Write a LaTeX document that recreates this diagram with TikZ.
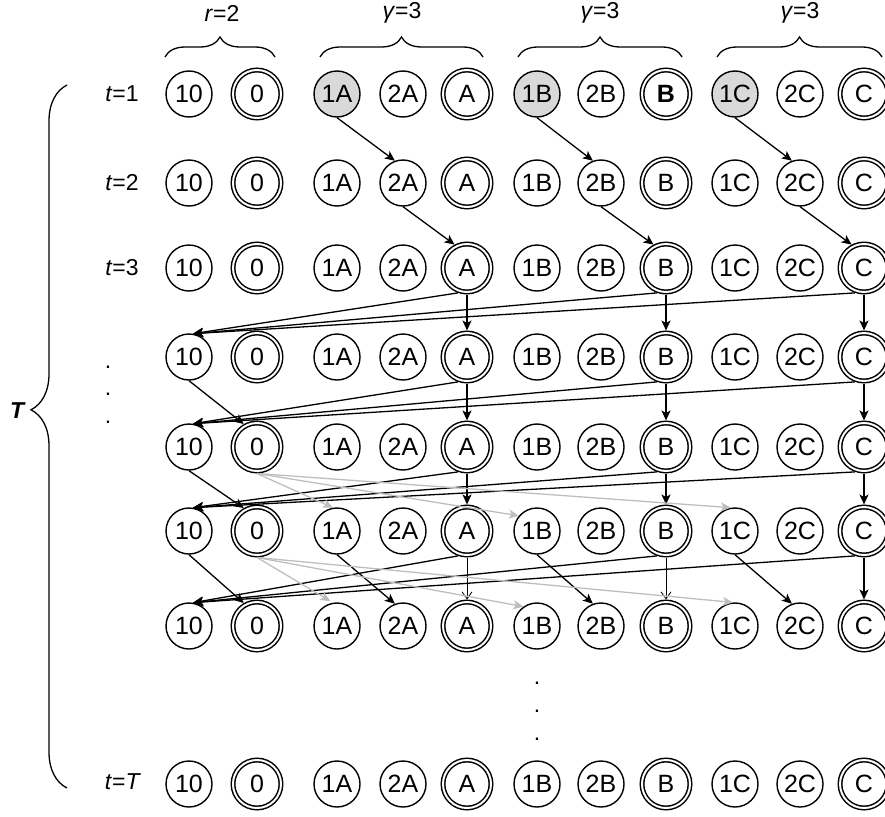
\documentclass[tikz,border=0pt]{standalone}
\usepackage{fontspec}
\setmainfont{Liberation Sans}
\usetikzlibrary{arrows.meta,decorations.pathreplacing}
\definecolor{lightg}{RGB}{190,190,190}
\definecolor{shade}{RGB}{217,217,217}
\newcommand\ndfnt{\fontsize{25}{29}\selectfont}
\newcommand\lbfnt{\fontsize{23}{27}\selectfont}
\begin{document}
\begin{tikzpicture}[x=1pt,y=-1pt,
  st/.style={circle, draw, line width=1.4pt, minimum size=46pt, inner sep=0pt, font=\ndfnt},
  fin/.style={circle, draw, double, double distance=2pt, line width=1.5pt, minimum size=48pt, inner sep=0pt, outer sep=2.5pt, font=\ndfnt},
  init/.style={st, fill=shade},
  arr/.style={-{Stealth[length=10pt,width=9pt,inset=2.5pt]}, line width=1.3pt},
  thinarr/.style={-{Straight Barb[length=7pt,width=10pt]}, line width=0.8pt},
  garr/.style={arr, draw=lightg, -{Stealth[length=10pt,width=9pt,inset=2.5pt,color=lightg]}},
  lbl/.style={font=\lbfnt, inner sep=0pt},
  dotn/.style={font=\lbfnt, inner sep=0pt, anchor=base},
  brc/.style={decorate, line width=1.3pt}
]
\useasboundingbox (0,0) rectangle (885,816);

% row 1
\node[st]   (ten1) at (189,94) {10};
\node[fin]  (zer1) at (257,94) {0};
\node[init] (oA1) at (337,94) {1A};
\node[st]   (wA1) at (403,94) {2A};
\node[fin]  (fA1) at (467,94) {A};
\node[init] (oB1) at (537,94) {1B};
\node[st]   (wB1) at (601,94) {2B};
\node[fin]  (fB1) at (666,94) {\textbf{B}};
\node[init] (oC1) at (735,94) {1C};
\node[st]   (wC1) at (800,94) {2C};
\node[fin]  (fC1) at (864,94) {C};

% rows 2..8
\foreach \r/\y in {2/183,3/268,4/357,5/447,6/531,7/626,8/784} {
  \node[st]  (ten\r) at (189,\y) {10};
  \node[fin] (zer\r) at (257,\y) {0};
  \node[st]  (oA\r) at (337,\y) {1A};
  \node[st]  (wA\r) at (403,\y) {2A};
  \node[fin] (fA\r) at (467,\y) {A};
  \node[st]  (oB\r) at (537,\y) {1B};
  \node[st]  (wB\r) at (601,\y) {2B};
  \node[fin] (fB\r) at (666,\y) {B};
  \node[st]  (oC\r) at (735,\y) {1C};
  \node[st]  (wC\r) at (800,\y) {2C};
  \node[fin] (fC\r) at (864,\y) {C};
}

% labels
\node[lbl] (lt1) at (122,94) {\textit{t}=1};
\node[lbl] (lt2) at (122,183) {\textit{t}=2};
\node[lbl] (lt3) at (122,268) {\textit{t}=3};
\node[lbl] (ltT) at (123,782) {\textit{t}=\textit{T}};
\node[lbl] (lT) at (18,411) {\textbf{\textit{T}}};
\node[lbl] (lr) at (222,13) {\textit{r}=2};
\node[lbl] (lg1) at (402,13) {\textit{γ}=3};
\node[lbl] (lg2) at (600,13) {\textit{γ}=3};
\node[lbl] (lg3) at (800,13) {\textit{γ}=3};

% dots
\node[dotn] (d1) at (108,368) {.};
\node[dotn] (d2) at (108,395) {.};
\node[dotn] (d3) at (108,423) {.};
\node[dotn] (d4) at (537,684) {.};
\node[dotn] (d5) at (537,712) {.};
\node[dotn] (d6) at (537,740) {.};

% braces
\draw[brc, decoration={brace, amplitude=20pt}] (165,57) -- (275,57);
\draw[brc, decoration={brace, amplitude=20pt}] (320,57) -- (483,57);
\draw[brc, decoration={brace, amplitude=20pt}] (518,57) -- (682,57);
\draw[brc, decoration={brace, amplitude=20pt}] (717,57) -- (882,57);
\draw[brc, decoration={brace, amplitude=36pt, aspect=0.538}] (67,788) -- (67,85);

% arrows
\foreach \g in {A,B,C} {
  \draw[arr] (o\g1.south) -- (w\g2.110);
  \draw[arr] (w\g2.south) -- (f\g3.118);
  \foreach \r/\s in {3/4,4/5,5/6} {
    \draw[arr] (f\g\r.south) -- (f\g\s.north);
  }
  \foreach \r/\s in {3/4,4/5,5/6,6/7} {
    \draw[arr] (f\g\r.-110) -- (ten\s.80);
  }
  \draw[arr] (o\g6.south) -- (w\g7.110);
}
\draw[thinarr] (fA6.south) -- (fA7.north);
\draw[thinarr] (fB6.south) -- (fB7.north);
\draw[arr] (fC6.south) -- (fC7.north);
\foreach \r/\s in {4/5,5/6,6/7} {
  \draw[arr] (ten\r.south) -- (zer\s.120);
}
\draw[garr] (zer5.south) -- (oA6.100);
\draw[garr] (zer5.south) -- (oB6.140);
\draw[garr] (zer5.south) -- (oC6.100);
\draw[garr, shorten >=3pt] (zer6.south) -- (oA7.100);
\draw[garr] (zer6.south) -- (oB7.125);
\draw[garr] (zer6.south) -- (oC7.95);
\end{tikzpicture}
\end{document}
